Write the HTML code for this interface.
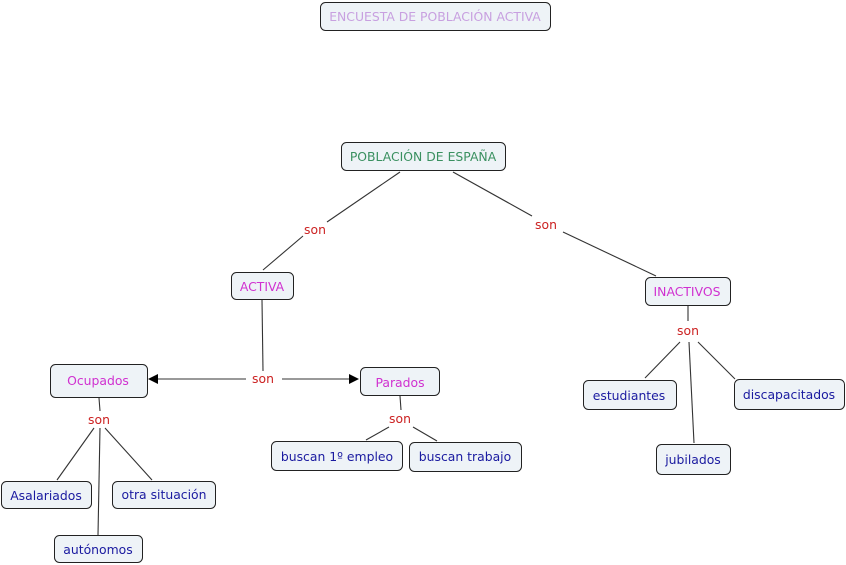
<!DOCTYPE html>
<html><head><meta charset="utf-8"><style>
body{margin:0;background:#fff}
svg{display:block;font-family:"DejaVu Sans","Liberation Sans",sans-serif;font-size:12.4px}
rect{fill:#eef3f7;stroke:#222;stroke-width:1}
line{stroke:#333;stroke-width:1.1}
.s{fill:#cc2222}
</style></head><body>
<svg width="846" height="565" viewBox="0 0 846 565">
<defs><marker id="a" markerWidth="10" markerHeight="10" refX="9" refY="5" orient="auto" markerUnits="userSpaceOnUse"><path d="M0,0L10,5L0,10z" fill="#000"/></marker></defs>
<g>
<line x1="400" y1="172" x2="327" y2="222"/><line x1="303" y1="236" x2="263" y2="270"/>
<line x1="453" y1="172" x2="532" y2="216"/><line x1="563" y1="232" x2="656" y2="276"/>
<line x1="262" y1="300" x2="263" y2="371"/>
<line x1="246" y1="379" x2="149" y2="379" marker-end="url(#a)"/>
<line x1="282" y1="379" x2="358" y2="379" marker-end="url(#a)"/>
<line x1="99" y1="398" x2="100" y2="411"/><line x1="94" y1="428" x2="57" y2="480"/><line x1="100" y1="428" x2="98" y2="535"/><line x1="105" y1="428" x2="152" y2="480"/>
<line x1="400" y1="396" x2="401" y2="410"/><line x1="389" y1="427" x2="366" y2="440"/><line x1="413" y1="427" x2="437" y2="441"/>
<line x1="688" y1="306" x2="688" y2="321"/><line x1="680" y1="342" x2="645" y2="378"/><line x1="689" y1="342" x2="694" y2="443"/><line x1="698" y1="342" x2="735" y2="379"/>
</g>
<rect x="320.5" y="2.5" width="230" height="28" rx="5"/>
<rect x="341.5" y="142.5" width="164" height="28" rx="5"/>
<rect x="231.5" y="272.5" width="62" height="27" rx="5"/>
<rect x="645.5" y="277.5" width="85" height="28" rx="5"/>
<rect x="50.5" y="364.5" width="97" height="33" rx="5"/>
<rect x="360.5" y="367.5" width="79" height="28" rx="5"/>
<rect x="271.5" y="441.5" width="131" height="29" rx="5"/>
<rect x="409.5" y="442.5" width="112" height="29" rx="5"/>
<rect x="1.5" y="481.5" width="90" height="27" rx="5"/>
<rect x="112.5" y="481.5" width="103" height="27" rx="5"/>
<rect x="54.5" y="535.5" width="88" height="27" rx="5"/>
<rect x="583.5" y="380.5" width="93" height="29" rx="5"/>
<rect x="656.5" y="444.5" width="74" height="30" rx="5"/>
<rect x="734.5" y="379.5" width="110" height="30" rx="5"/>
<g text-anchor="middle">
<text x="435" y="21" fill="#c8a0e0">ENCUESTA DE POBLACIÓN ACTIVA</text>
<text x="423" y="161" fill="#3a9060">POBLACIÓN DE ESPAÑA</text>
<text x="262" y="291" fill="#d030d0">ACTIVA</text>
<text x="687" y="296" fill="#d030d0">INACTIVOS</text>
<text x="98" y="385" fill="#d030d0">Ocupados</text>
<text x="400" y="387" fill="#d030d0">Parados</text>
<text x="337" y="461" fill="#1a1aa0">buscan 1º empleo</text>
<text x="465" y="461" fill="#1a1aa0">buscan trabajo</text>
<text x="46" y="500" fill="#1a1aa0">Asalariados</text>
<text x="164" y="499" fill="#1a1aa0">otra situación</text>
<text x="98" y="554" fill="#1a1aa0">autónomos</text>
<text x="629" y="400" fill="#1a1aa0">estudiantes</text>
<text x="693" y="464" fill="#1a1aa0">jubilados</text>
<text x="789" y="399" fill="#1a1aa0">discapacitados</text>
<text class="s" x="315" y="234">son</text>
<text class="s" x="546" y="229">son</text>
<text class="s" x="263" y="383">son</text>
<text class="s" x="99" y="424">son</text>
<text class="s" x="400" y="423">son</text>
<text class="s" x="688" y="335">son</text>
</g>
</svg>
</body></html>
